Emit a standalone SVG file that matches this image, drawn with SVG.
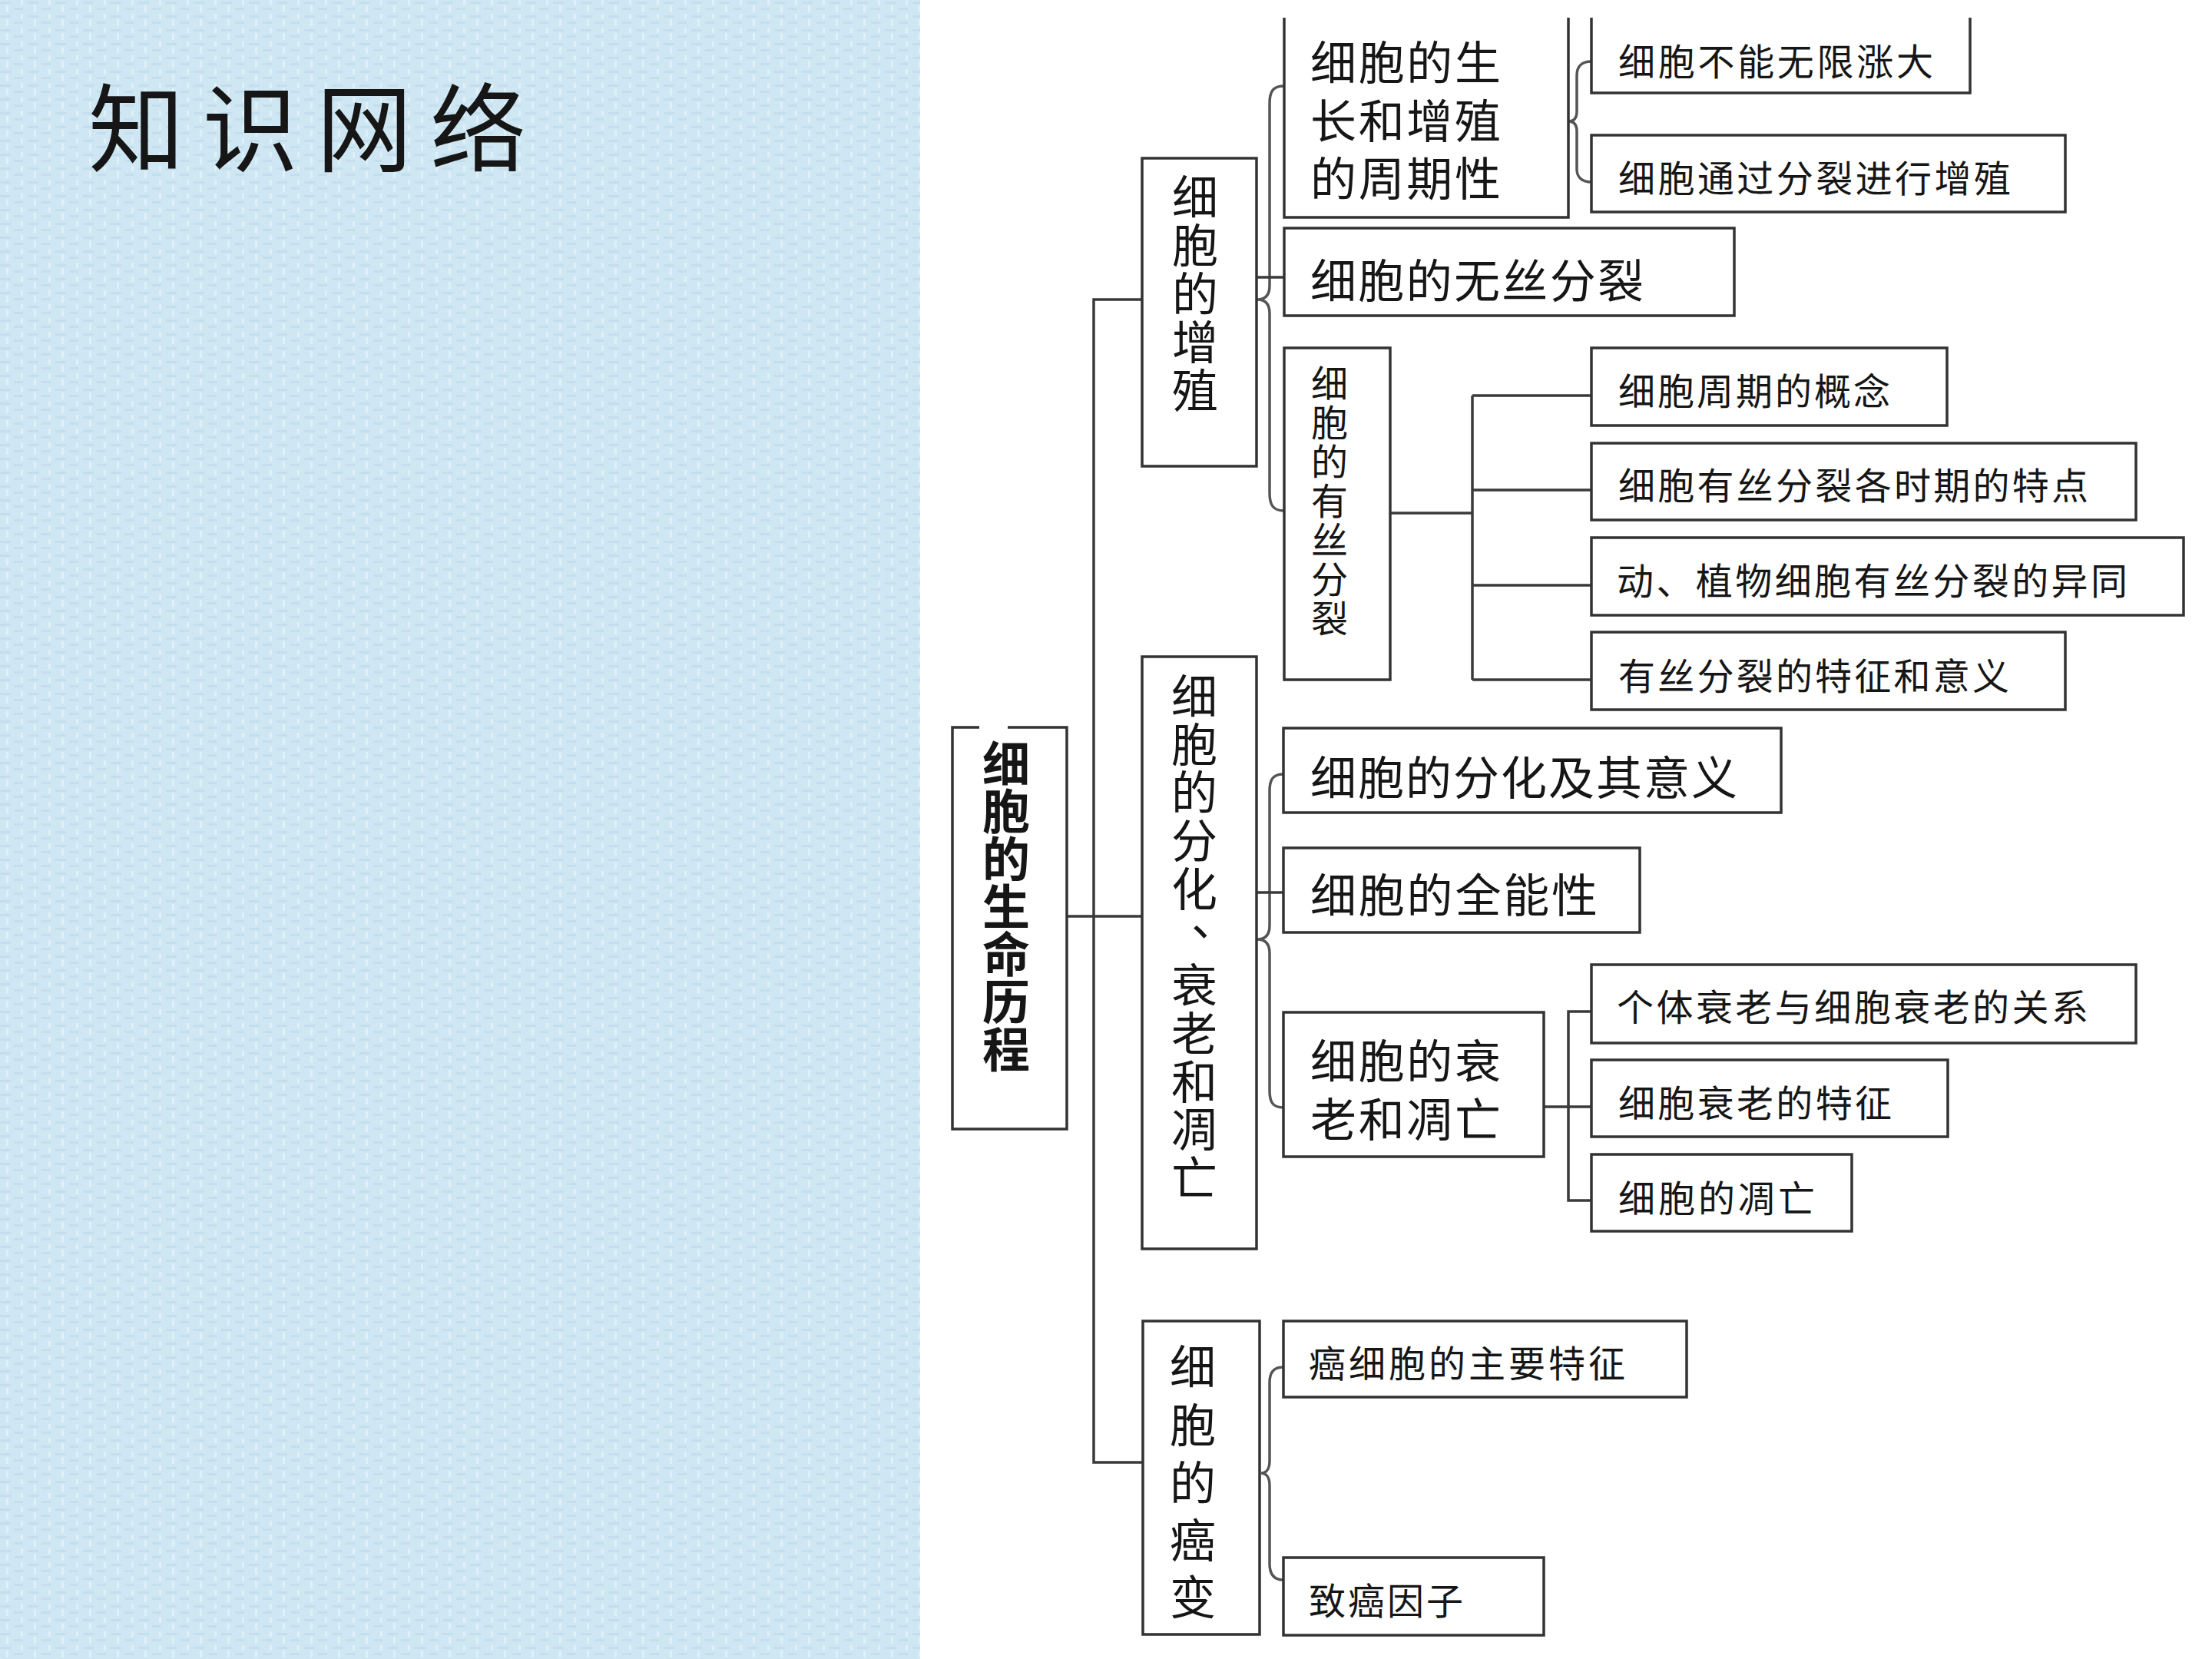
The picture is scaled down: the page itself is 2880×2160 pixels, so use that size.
<svg xmlns="http://www.w3.org/2000/svg" width="2880" height="2160" viewBox="0 0 2880 2160">
<defs>
<pattern id="tex" width="36" height="18" patternUnits="userSpaceOnUse">
<rect width="36" height="18" fill="#cfe7f3"/>
<rect x="0" y="2" width="14" height="3" fill="#bcd9ea" opacity="0.6"/>
<rect x="18" y="10" width="12" height="3" fill="#bcd9ea" opacity="0.6"/>
<rect x="8" y="7" width="3" height="9" fill="#e3f3fa" opacity="0.8"/>
<rect x="27" y="0" width="3" height="7" fill="#e3f3fa" opacity="0.8"/>
</pattern>
<style>
.box{fill:#fff;stroke:#333;stroke-width:3.5}
.open{fill:#fff;stroke:#333;stroke-width:3.5}
.ln{fill:none;stroke:#3a3a3a;stroke-width:3.5}
.br{fill:none;stroke:#555;stroke-width:3.5}
.t{font-family:"Noto Sans CJK SC","Noto Sans",sans-serif;fill:#161616;dominant-baseline:central}
.big{font-size:60px}
.sm{font-size:48px}
.v{text-anchor:middle}
</style>
</defs>
<rect x="0" y="0" width="2880" height="2160" fill="#fff"/>
<rect x="0" y="0" width="1198" height="2160" fill="url(#tex)"/>
<text class="t" x="115" y="159" font-size="125" textLength="570" lengthAdjust="spacing">知识网络</text>

<g id="connectors">
<path class="ln" d="M1389,1193 H1487"/>
<path class="ln" d="M1487,390 H1424 V1904 H1488"/>
<path class="br" d="M1672,112 C1658,112 1653,118 1653,135 V372 C1653,384 1648,390 1637,390 C1648,390 1653,396 1653,408 V642 C1653,658 1658,665 1672,665"/>
<path class="ln" d="M1636,361 H1672"/>
<path class="br" d="M2072,80 C2060,80 2053,86 2053,98 V145 C2053,154 2049,158 2042,158 C2049,158 2053,162 2053,171 V220 C2053,231 2060,237 2072,237"/>
<path class="ln" d="M1793,668 H1917"/>
<path class="ln" d="M1917,515 V885"/>
<path class="ln" d="M1917,515 H2072 M1917,638 H2072 M1917,762 H2072 M1917,885 H2072"/>
<path class="br" d="M1671,1008 C1658,1008 1653,1014 1653,1030 V1205 C1653,1217 1648,1223 1637,1223 C1648,1223 1653,1229 1653,1241 V1420 C1653,1436 1658,1442 1671,1442"/>
<path class="ln" d="M1636,1162 H1671"/>
<path class="ln" d="M2010,1441 H2072"/>
<path class="ln" d="M2072,1317 H2042 V1563 H2072"/>
<path class="br" d="M1671,1780 C1659,1780 1653,1786 1653,1800 V1902 C1653,1912 1649,1918 1642,1918 C1649,1918 1653,1924 1653,1934 V2036 C1653,2050 1659,2057 1671,2057"/>
</g>

<g id="root">
<path class="box" d="M1275,947 H1240 V1470 H1389 V947 H1312"/>
<text class="t v" font-size="62" font-weight="bold"><tspan x="1310" y="991">细</tspan><tspan x="1310" y="1053">胞</tspan><tspan x="1310" y="1115">的</tspan><tspan x="1310" y="1177">生</tspan><tspan x="1310" y="1239">命</tspan><tspan x="1310" y="1301">历</tspan><tspan x="1310" y="1363">程</tspan></text>
</g>

<g id="nodeA">
<rect class="box" x="1487" y="206" width="149" height="401"/>
<text class="t v big"><tspan x="1556" y="252">细</tspan><tspan x="1556" y="315">胞</tspan><tspan x="1556" y="378">的</tspan><tspan x="1556" y="441">增</tspan><tspan x="1556" y="504">殖</tspan></text>
</g>

<g id="nodeB">
<rect class="box" x="1487" y="855" width="149" height="771"/>
<text class="t v big"><tspan x="1555" y="902">细</tspan><tspan x="1555" y="965">胞</tspan><tspan x="1555" y="1027">的</tspan><tspan x="1555" y="1090">分</tspan><tspan x="1555" y="1153">化</tspan><tspan x="1581" y="1191">、</tspan><tspan x="1555" y="1278">衰</tspan><tspan x="1555" y="1341">老</tspan><tspan x="1555" y="1404">和</tspan><tspan x="1555" y="1466">凋</tspan><tspan x="1555" y="1529">亡</tspan></text>
</g>

<g id="nodeC">
<rect class="box" x="1488" y="1720" width="152" height="408"/>
<text class="t v big"><tspan x="1553" y="1775">细</tspan><tspan x="1553" y="1851">胞</tspan><tspan x="1553" y="1926">的</tspan><tspan x="1553" y="2001">癌</tspan><tspan x="1553" y="2075">变</tspan></text>
</g>

<g id="nodeA1">
<path class="open" d="M1672,23 V283 H2042 V23"/>
<text class="t big" x="1706" y="77" textLength="248" lengthAdjust="spacing">细胞的生</text>
<text class="t big" x="1706" y="153" textLength="248" lengthAdjust="spacing">长和增殖</text>
<text class="t big" x="1706" y="228" textLength="248" lengthAdjust="spacing">的周期性</text>
</g>

<g id="nodeA2">
<rect class="box" x="1672" y="297" width="586" height="114"/>
<text class="t big" x="1706" y="361" textLength="434" lengthAdjust="spacing">细胞的无丝分裂</text>
</g>

<g id="nodeA3">
<rect class="box" x="1672" y="453" width="138" height="432"/>
<text class="t v" font-size="48"><tspan x="1731" y="496">细</tspan><tspan x="1731" y="547">胞</tspan><tspan x="1731" y="598">的</tspan><tspan x="1731" y="649">有</tspan><tspan x="1731" y="700">丝</tspan><tspan x="1731" y="751">分</tspan><tspan x="1731" y="802">裂</tspan></text>
</g>

<g id="nodeA1a">
<path class="open" d="M2072,23 V121 H2565 V23"/>
<text class="t sm" x="2107" y="77" textLength="410" lengthAdjust="spacing">细胞不能无限涨大</text>
</g>
<g id="nodeA1b">
<rect class="box" x="2072" y="176" width="617" height="100"/>
<text class="t sm" x="2107" y="229" textLength="511" lengthAdjust="spacing">细胞通过分裂进行增殖</text>
</g>

<g id="nodeA3a">
<rect class="box" x="2072" y="453" width="463" height="101"/>
<text class="t sm" x="2107" y="506" textLength="354" lengthAdjust="spacing">细胞周期的概念</text>
</g>
<g id="nodeA3b">
<rect class="box" x="2072" y="577" width="709" height="100"/>
<text class="t sm" x="2107" y="629" textLength="612" lengthAdjust="spacing">细胞有丝分裂各时期的特点</text>
</g>
<g id="nodeA3c">
<rect class="box" x="2072" y="700" width="771" height="101"/>
<text class="t sm" x="2105" y="753" textLength="665" lengthAdjust="spacing">动、植物细胞有丝分裂的异同</text>
</g>
<g id="nodeA3d">
<rect class="box" x="2072" y="823" width="617" height="101"/>
<text class="t sm" x="2107" y="877" textLength="509" lengthAdjust="spacing">有丝分裂的特征和意义</text>
</g>

<g id="nodeB1">
<rect class="box" x="1671" y="948" width="648" height="110"/>
<text class="t big" x="1706" y="1008" textLength="556" lengthAdjust="spacing">细胞的分化及其意义</text>
</g>
<g id="nodeB2">
<rect class="box" x="1671" y="1104" width="464" height="110"/>
<text class="t big" x="1706" y="1161" textLength="374" lengthAdjust="spacing">细胞的全能性</text>
</g>
<g id="nodeB3">
<rect class="box" x="1671" y="1318" width="339" height="188"/>
<text class="t big" x="1706" y="1377" textLength="248" lengthAdjust="spacing">细胞的衰</text>
<text class="t big" x="1706" y="1453" textLength="248" lengthAdjust="spacing">老和凋亡</text>
</g>

<g id="nodeB3a">
<rect class="box" x="2072" y="1256" width="709" height="102"/>
<text class="t sm" x="2105" y="1308" textLength="614" lengthAdjust="spacing">个体衰老与细胞衰老的关系</text>
</g>
<g id="nodeB3b">
<rect class="box" x="2072" y="1380" width="464" height="100"/>
<text class="t sm" x="2107" y="1433" textLength="356" lengthAdjust="spacing">细胞衰老的特征</text>
</g>
<g id="nodeB3c">
<rect class="box" x="2072" y="1503" width="339" height="100"/>
<text class="t sm" x="2107" y="1557" textLength="256" lengthAdjust="spacing">细胞的凋亡</text>
</g>

<g id="nodeC1">
<rect class="box" x="1671" y="1720" width="525" height="99"/>
<text class="t sm" x="1704" y="1772" textLength="412" lengthAdjust="spacing">癌细胞的主要特征</text>
</g>
<g id="nodeC2">
<rect class="box" x="1671" y="2028" width="339" height="101"/>
<text class="t sm" x="1704" y="2081" textLength="201" lengthAdjust="spacing">致癌因子</text>
</g>
</svg>
